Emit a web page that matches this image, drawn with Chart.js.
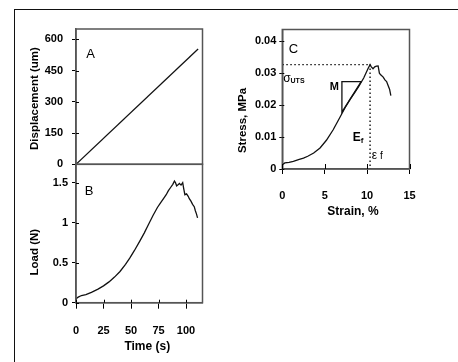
<!DOCTYPE html>
<html><head><meta charset="utf-8">
<script src="https://cdn.jsdelivr.net/npm/chart.js@4.4.0/dist/chart.umd.min.js"></script>
<style>
html,body{margin:0;padding:0;background:#fff;}
#wrap{position:relative;width:458px;height:362px;overflow:hidden;background:#fff;}
#frame{position:absolute;left:14px;top:9px;width:700px;height:700px;border-left:1px solid #111;border-top:1px solid #111;}
canvas{position:absolute;left:0;top:0;}
</style></head><body>
<div id="wrap"><div id="frame"></div>
<canvas id="cA" width="458" height="362"></canvas>
<canvas id="cB" width="458" height="362"></canvas>
<canvas id="cC" width="458" height="362"></canvas>
</div>
<script>
// ---- Data ----
const timeA = [0, 111];
const dispA = [0, 554];

const timeB = [0, 2, 5, 9, 14, 20, 25, 30, 35, 40, 45, 49, 53, 58, 62, 66, 70, 74, 77, 80, 82, 84, 86, 88, 89.5, 90.5, 91.5, 92.5, 94, 95.5, 97, 98, 99, 100.5, 102, 103, 104.5, 106, 107.5, 108.5, 109.5, 110.5];
const loadB = [0.05, 0.07, 0.09, 0.10, 0.13, 0.17, 0.21, 0.26, 0.32, 0.39, 0.48, 0.56, 0.65, 0.77, 0.87, 0.98, 1.09, 1.19, 1.25, 1.31, 1.35, 1.40, 1.44, 1.48, 1.52, 1.50, 1.46, 1.47, 1.49, 1.47, 1.50, 1.42, 1.35, 1.36, 1.33, 1.30, 1.27, 1.23, 1.20, 1.15, 1.11, 1.06];

const strainC = [0, 0.3, 0.8, 1.3, 2.0, 2.5, 3.0, 3.7, 4.45, 5.2, 6.0, 6.8, 7.4, 8.0, 8.5, 9.0, 9.6, 10.1, 10.35, 10.5, 10.7, 10.9, 11.1, 11.3, 11.45, 11.6, 11.9, 12.1, 12.3, 12.5, 12.65, 12.8];
const stressC = [0.0013, 0.0019, 0.0021, 0.0024, 0.0030, 0.0034, 0.0040, 0.0050, 0.0066, 0.0090, 0.0123, 0.0162, 0.0192, 0.0218, 0.0238, 0.0258, 0.0285, 0.0314, 0.0327, 0.0320, 0.0314, 0.0320, 0.0322, 0.0323, 0.0300, 0.0295, 0.0288, 0.0279, 0.0274, 0.0260, 0.0250, 0.0230];

const utsStrain = [0, 10.35];
const utsStress = [0.0327, 0.0327];
const failStrain = [10.35, 10.35];
const failStress = [0.0327, 0];
const triStrain = [9.3, 7.03, 7.03, 9.3];
const triStress = [0.0274, 0.0274, 0.0178, 0.0274];

const ticksDisp = [0, 150, 300, 450, 600];
const ticksLoad = [0, 0.5, 1, 1.5];
const ticksTime = [0, 25, 50, 75, 100];
const ticksStrain = [0, 5, 10, 15];
const ticksStress = [0, 0.01, 0.02, 0.03, 0.04];

// ---- Helpers ----
const FONT = "'Liberation Sans', Arial, sans-serif";
const TITLE = 'bold 11.5px ' + FONT;
const pts = (xs, ys) => xs.map((x, i) => ({x: x, y: ys[i]}));
const lineDS = (data, extra) => Object.assign({data: data, borderColor: '#111', borderWidth: 1.3, pointRadius: 0, fill: false, tension: 0}, extra || {});
const setTicks = arr => s => { s.ticks = arr.map(v => ({value: v})); };

const framePlugin = {
  id: 'frame',
  afterDraw(chart, args, opts) {
    const ctx = chart.ctx, a = chart.chartArea;
    ctx.save();
    ctx.strokeStyle = '#555';
    ctx.lineWidth = 1.5;
    ctx.strokeRect(a.left, a.top, a.right - a.left, a.bottom - a.top);
    ctx.strokeStyle = '#000';
    ctx.lineWidth = 1;
    if (opts.innerX) {
      const s = chart.scales.x;
      s.ticks.forEach(t => {
        const p = Math.round(s.getPixelForValue(t.value)) + 0.5;
        ctx.beginPath(); ctx.moveTo(p, a.bottom); ctx.lineTo(p, a.bottom - opts.innerX); ctx.stroke();
      });
    }
    if (opts.innerY) {
      const s = chart.scales.y;
      s.ticks.forEach(t => {
        const p = Math.round(s.getPixelForValue(t.value)) + 0.5;
        ctx.beginPath(); ctx.moveTo(a.left, p); ctx.lineTo(a.left + opts.innerY, p); ctx.stroke();
      });
    }
    (opts.labels || []).forEach(l => {
      const x = chart.scales.x.getPixelForValue(l.x);
      const y = chart.scales.y.getPixelForValue(l.y);
      ctx.save();
      ctx.fillStyle = '#000';
      ctx.textBaseline = 'middle';
      ctx.textAlign = l.align || 'left';
      ctx.font = l.font;
      ctx.translate(x, y);
      if (l.rotate) ctx.rotate(l.rotate);
      ctx.fillText(l.text, 0, 0);
      if (l.sub) {
        const w = ctx.measureText(l.text).width;
        ctx.font = l.subFont;
        ctx.fillText(l.sub, w + (l.subDx || 0), (l.subDy || 3));
      }
      ctx.restore();
    });
    ctx.restore();
  }
};

function tickFont(size) { return {family: FONT, size: size, weight: 'bold'}; }
const VERT = -Math.PI / 2;

// ---- Chart A ----
new Chart(document.getElementById('cA'), {
  type: 'scatter',
  data: {datasets: [lineDS(pts(timeA, dispA), {showLine: true})]},
  options: {
    responsive: false, animation: false, devicePixelRatio: 1,
    layout: {padding: {left: 14, top: 29, right: 255.5, bottom: 197.7}},
    plugins: {legend: {display: false}, tooltip: {enabled: false},
      frame: {innerY: 3, labels: [
        {x: 9.3, y: 530, text: 'A', font: '13px ' + FONT},
        {x: -37.4, y: 316, text: 'Displacement (um)', font: TITLE, align: 'center', rotate: VERT}
      ]}},
    scales: {
      x: {type: 'linear', display: false, min: 0, max: 115},
      y: {type: 'linear', min: 0, max: 650,
        afterBuildTicks: setTicks(ticksDisp),
        afterFit: s => { s.width = 62; },
        border: {display: true, color: '#555', width: 1.5},
        grid: {display: true, drawOnChartArea: false, drawTicks: true, tickLength: 4, color: '#000'},
        ticks: {font: tickFont(11), color: '#000', padding: 9, callback: v => String(v)}
      }
    }
  },
  plugins: [framePlugin]
});

// ---- Chart B ----
new Chart(document.getElementById('cB'), {
  type: 'scatter',
  data: {datasets: [lineDS(pts(timeB, loadB), {showLine: true})]},
  options: {
    responsive: false, animation: false, devicePixelRatio: 1,
    layout: {padding: {left: 14, top: 164.3, right: 255.5, bottom: 4}},
    plugins: {legend: {display: false}, tooltip: {enabled: false},
      frame: {innerX: 3, innerY: 3, labels: [
        {x: 8, y: 1.39, text: 'B', font: '13px ' + FONT},
        {x: -37.4, y: 0.632, text: 'Load (N)', font: TITLE, align: 'center', rotate: VERT},
        {x: 64.8, y: -0.549, text: 'Time (s)', font: 'bold 12px ' + FONT, align: 'center'}
      ]}},
    scales: {
      x: {type: 'linear', min: 0, max: 115,
        afterBuildTicks: setTicks(ticksTime),
        afterFit: s => { s.height = 55.3; },
        border: {display: true, color: '#555', width: 1.5},
        grid: {display: true, drawOnChartArea: false, drawTicks: true, tickLength: 6, color: '#000'},
        ticks: {font: tickFont(11), color: '#000', padding: 16, maxRotation: 0, callback: v => String(v)}
      },
      y: {type: 'linear', min: 0, max: 1.73,
        afterBuildTicks: setTicks(ticksLoad),
        afterFit: s => { s.width = 62; },
        border: {display: true, color: '#555', width: 1.5},
        grid: {display: true, drawOnChartArea: false, drawTicks: true, tickLength: 4, color: '#000'},
        ticks: {font: tickFont(11), color: '#000', padding: 4, callback: v => String(v)}
      }
    }
  },
  plugins: [framePlugin]
});

// ---- Chart C ----
new Chart(document.getElementById('cC'), {
  type: 'scatter',
  data: {datasets: [
    lineDS(pts(strainC, stressC), {showLine: true}),
    lineDS(pts(utsStrain, utsStress), {showLine: true, borderDash: [1.5, 2.5], borderWidth: 1.4}),
    lineDS(pts(failStrain, failStress), {showLine: true, borderDash: [1.5, 2.5], borderWidth: 1.4}),
    lineDS(pts(triStrain, triStress), {showLine: true, borderWidth: 1.3})
  ]},
  options: {
    responsive: false, animation: false, devicePixelRatio: 1,
    layout: {padding: {left: 230, top: 29.5, right: 48.5, bottom: 143}},
    plugins: {legend: {display: false}, tooltip: {enabled: false},
      frame: {innerX: 5, innerY: 2, labels: [
        {x: 0.75, y: 0.0376, text: 'C', font: '13px ' + FONT},
        {x: 0.1, y: 0.0283, text: 'σ', font: '12px ' + FONT, sub: 'UTS', subFont: 'bold 7px ' + FONT, subDy: 2},
        {x: 5.6, y: 0.0256, text: 'M', font: 'bold 11px ' + FONT},
        {x: 8.3, y: 0.0097, text: 'E', font: 'bold 12px ' + FONT, sub: 'f', subFont: 'bold 8px ' + FONT, subDy: 3},
        {x: 10.55, y: 0.0043, text: 'ε', font: '12px ' + FONT, sub: ' f', subFont: '10px ' + FONT, subDy: 1},
        {x: -4.6, y: 0.0152, text: 'Stress, MPa', font: TITLE, align: 'center', rotate: VERT},
        {x: 8.34, y: -0.01338, text: 'Strain, %', font: 'bold 12px ' + FONT, align: 'center'}
      ]}},
    scales: {
      x: {type: 'linear', min: 0, max: 15,
        afterBuildTicks: setTicks(ticksStrain),
        afterFit: s => { s.height = 50; },
        border: {display: true, color: '#555', width: 1.5},
        grid: {display: true, drawOnChartArea: false, drawTicks: true, tickLength: 5, color: '#000'},
        ticks: {font: tickFont(11), color: '#000', padding: 15, maxRotation: 0, callback: v => String(v)}
      },
      y: {type: 'linear', min: 0, max: 0.0437,
        afterBuildTicks: setTicks(ticksStress),
        afterFit: s => { s.width = 52.3; },
        border: {display: true, color: '#555', width: 1.5},
        grid: {display: true, drawOnChartArea: false, drawTicks: true, tickLength: 3, color: '#000'},
        ticks: {font: tickFont(11), color: '#000', padding: 3, callback: v => String(v)}
      }
    }
  },
  plugins: [framePlugin]
});
</script>
</body></html>
